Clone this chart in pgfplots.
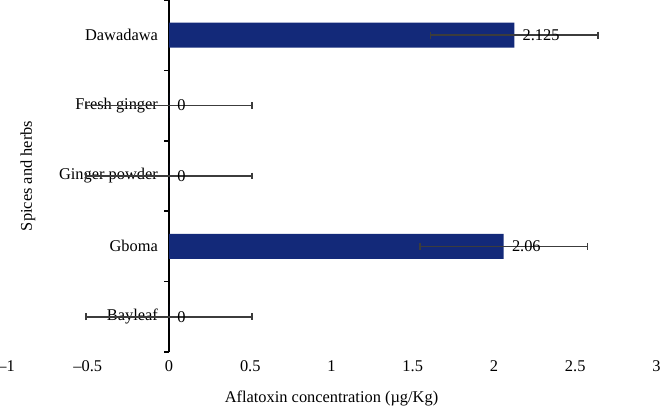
\documentclass[border=0pt,12pt]{standalone}
\usepackage{fontspec}
\setmainfont{Liberation Serif}
\usepackage{pgfplots}
\usepackage{pgfplotstable}
\pgfplotsset{compat=1.18}
\definecolor{barblue}{RGB}{19,41,121}
\definecolor{errgray}{RGB}{60,60,60}

\pgfplotstableread{
c v e lab
0 0 0.51 0
1 2.06 0.515 2.06
2 0 0.51 0
3 0 0.51 0
4 2.125 0.515 2.125
}\datatable

\begin{document}
\begin{tikzpicture}
\begin{axis}[
  width=487.5pt, height=264pt, scale only axis,
  clip=false,
  font=\fontsize{12.3}{14}\selectfont,
  xmin=-1, xmax=3, ymin=-0.5, ymax=4.5,
  axis x line=bottom, axis y line=center,
  x axis line style={draw=none},
  y axis line style={-, line width=1.4pt, black},
  xtick={-1,-0.5,0,0.5,1,1.5,2,2.5,3},
  xticklabels={\textendash1,\textendash0.5,0,0.5,1,1.5,2,2.5,3},
  x tick style={draw=none},
  ytick={0,1,2,3,4},
  yticklabels={Bayleaf,Gboma,Ginger powder,Fresh ginger,Dawadawa},
  y tick style={draw=none},
  yticklabel style={anchor=east, xshift=-2pt},
  xticklabel style={anchor=north, yshift=-0.5pt},
]
\addplot[xbar, bar width=18.75pt, fill=barblue, draw=none,
  point meta=explicit symbolic,
  nodes near coords,
  nodes near coords style={anchor=west, inner sep=0pt, xshift=6pt, black, font=\fontsize{12.3}{14}\selectfont},
  error bars/.cd, x dir=both, x explicit,
  error bar style={errgray, line width=1.1pt},
  error mark options={errgray, line width=1.1pt, mark size=2.6pt, rotate=90}]
  table[x=v, y=c, x error=e, meta=lab] {\datatable};
\pgfplotsinvokeforeach{-0.5,0.5,1.5,2.5,3.5,4.5}{
  \draw[black, line width=1.1pt] (axis cs:0,#1) -- ([xshift=-4pt]axis cs:0,#1);
}
\node[rotate=90, anchor=center] at (rel axis cs:0.033,0.5) {Spices and herbs};
\node[anchor=center] at (rel axis cs:0.5,0) [yshift=-35pt] {Aflatoxin concentration (µg/Kg)};
\coordinate (bl) at (rel axis cs:0,0);
\coordinate (tr) at (rel axis cs:1,1);
\end{axis}
\pgfresetboundingbox
\path ([shift={(-4.9pt,-44.25pt)}]bl) rectangle ([shift={(3.4pt,0pt)}]tr);
\end{tikzpicture}
\end{document}
